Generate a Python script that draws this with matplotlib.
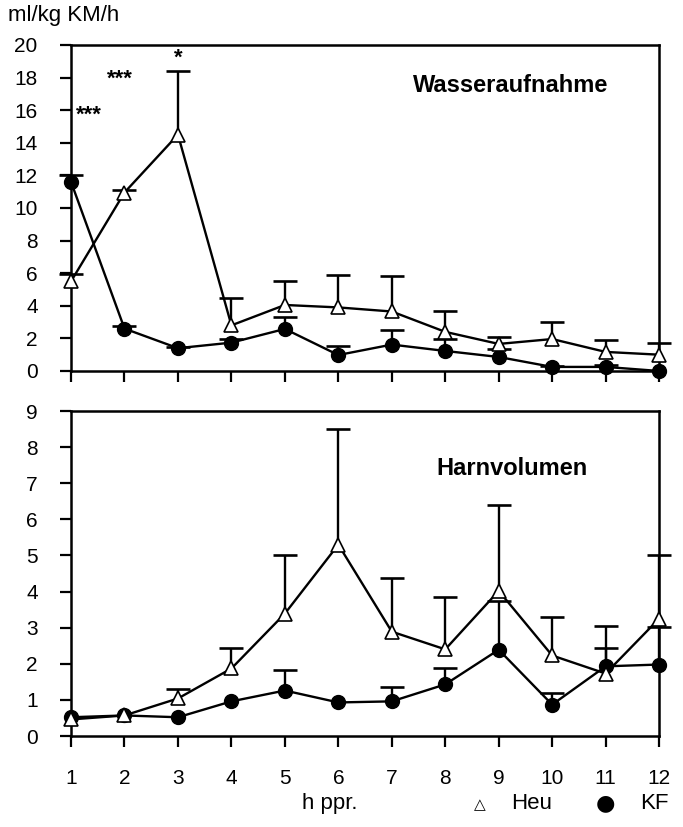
import matplotlib.pyplot as plt
import numpy as np

plt.rcParams['font.family'] = ['Liberation Sans', 'DejaVu Sans']

hours = list(range(1, 13))

# Wasseraufnahme (ml/kg KM/h)
wasser_heu = [5.5, 10.95, 14.5, 2.8, 4.05, 3.9, 3.65, 2.4, 1.66, 1.96, 1.17, 1.0]
wasser_heu_top = [5.97, 11.1, 18.4, 4.5, 5.52, 5.9, 5.8, 3.68, 2.09, 3.0, 1.9, 1.72]
wasser_kf = [11.6, 2.6, 1.4, 1.74, 2.58, 0.98, 1.62, 1.23, 0.86, 0.25, 0.25, 0.0]
wasser_kf_top = [12.0, 2.78, 1.5, 1.96, 3.33, 1.53, 2.5, 1.96, 1.35, 0.3, 0.35, 0.0]

# Harnvolumen (ml/kg KM/h)
harn_heu = [0.46, 0.57, 1.04, 1.87, 3.39, 5.3, 2.89, 2.4, 4.02, 2.23, 1.73, 3.25]
harn_heu_top = [0.46, 0.57, 1.29, 2.45, 5.0, 8.5, 4.38, 3.84, 6.4, 3.3, 3.05, 5.0]
harn_kf = [0.52, 0.57, 0.52, 0.96, 1.26, 0.93, 0.96, 1.43, 2.39, 0.87, 1.93, 1.98]
harn_kf_top = [0.52, 0.57, 0.52, 0.96, 1.84, 0.93, 1.35, 1.87, 3.75, 1.2, 2.45, 3.03]

stars = [(1.33, 15.7, '***'), (1.92, 17.9, '***'), (3.0, 19.2, '*')]

fig = plt.figure(figsize=(6.83, 8.27), dpi=100)
ax1 = fig.add_axes([0.104, 0.5514, 0.861, 0.3942])
ax2 = fig.add_axes([0.104, 0.110, 0.861, 0.393])


def draw_panel(ax, heu, heu_top, kf, kf_top):
    x = np.array(hours)
    for vals, top in ((heu, heu_top), (kf, kf_top)):
        vals = np.array(vals)
        top = np.array(top)
        m = top > vals
        # only upper error bars, with a cap at the top
        ax.vlines(x[m], vals[m], top[m], color='black', lw=1.7,
                  clip_on=False, zorder=2)
        ax.plot(x[m], top[m], ls='none', marker='_', ms=17, mew=1.9,
                color='black', clip_on=False, zorder=2)
    ax.plot(x, kf, '-o', color='black', lw=1.7, ms=10, mfc='black',
            clip_on=False, zorder=3)
    ax.plot(x, heu, '-^', color='black', lw=1.7, ms=10, mfc='white',
            mec='black', mew=1.2, clip_on=False, zorder=4)
    ax.set_xlim(1, 12)
    ax.set_xticks(hours)
    for s in ax.spines.values():
        s.set_linewidth(1.8)
    ax.tick_params(direction='out', length=8, width=1.6, labelsize=15, pad=16)


draw_panel(ax1, wasser_heu, wasser_heu_top, wasser_kf, wasser_kf_top)
ax1.set_ylim(0, 20)
ax1.set_yticks(range(0, 21, 2))
ax1.set_xticklabels([])
ax1.text(9.23, 17.5, 'Wasseraufnahme', ha='center', va='center',
         fontsize=17, fontweight='bold')
for sx, sy, s in stars:
    ax1.text(sx, sy, s, ha='center', va='center', fontsize=16, fontweight='bold')

draw_panel(ax2, harn_heu, harn_heu_top, harn_kf, harn_kf_top)
ax2.set_ylim(0, 9)
ax2.set_yticks(range(0, 10))
ax2.set_xticklabels([str(h) for h in hours])
ax2.text(9.25, 7.42, 'Harnvolumen', ha='center', va='center',
         fontsize=17, fontweight='bold')

fig.text(0.012, 0.981, 'ml/kg KM/h', ha='left', va='center', fontsize=16)
fig.text(0.483, 0.029, 'h ppr.', ha='center', va='center', fontsize=16)
fig.text(0.703, 0.027, '\u25b3', ha='center', va='center', fontsize=11,
         family=['DejaVu Sans'])
fig.text(0.778, 0.029, 'Heu', ha='center', va='center', fontsize=16)
fig.text(0.886, 0.029, '\u25cf', ha='center', va='center', fontsize=16,
         family=['DejaVu Sans'])
fig.text(0.958, 0.029, 'KF', ha='center', va='center', fontsize=16)

fig.savefig('out.png', dpi=100)
